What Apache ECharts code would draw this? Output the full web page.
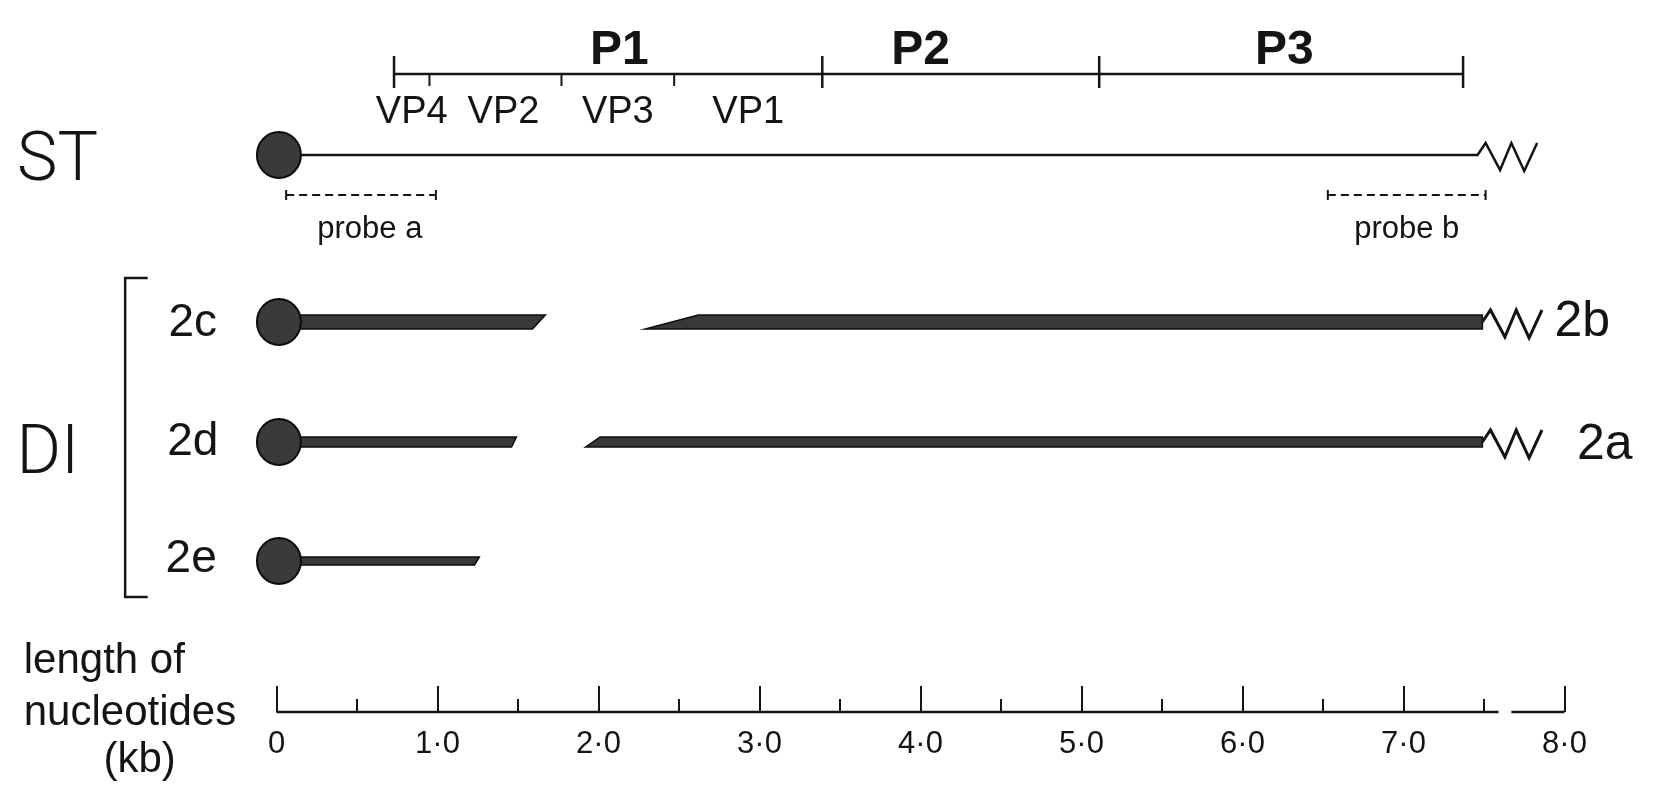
<!DOCTYPE html>
<html>
<head>
  <meta charset="utf-8">
  <title>ST and DI RNA map</title>
  <script src="https://cdn.jsdelivr.net/npm/echarts@6.0.0/dist/echarts.min.js"></script>
</head>
<body style="margin:0;background:#fff">
<div id="chart-container" style="position: relative; width: 1661px; height: 799px; overflow: hidden;"></div>
<script type="text/javascript">
  // ---- data (kb along the genome) ----
  var kbTicks = [0, 1, 2, 3, 4, 5, 6, 7, 8];
  var kbTickLabels = ['0', '1·0', '2·0', '3·0', '4·0', '5·0', '6·0', '7·0', '8·0'];
  var axisPieces = [[0, 7.59], [7.67, 8.0]];
  var axisBreakDot = 7.63;

  var proteinNames = ['P1', 'P2', 'P3'];
  var proteinBounds = [0.73, 3.39, 5.11, 7.37];
  var proteinLabelKb = [2.13, 4.0, 6.26];
  var capsidNames = ['VP4', 'VP2', 'VP3', 'VP1'];
  var capsidBounds = [0.95, 1.77, 2.47];
  var capsidLabelKb = [0.84, 1.41, 2.12, 2.93];

  var probeNames = ['probe a', 'probe b'];
  var probeStart = [0.06, 6.53];
  var probeEnd = [0.99, 7.51];
  var probeLabelKb = [0.58, 7.02];

  var stName = 'ST';
  var stLength = 7.46;
  var capKb = 0.015;   // 5' end marker

  var diName = 'DI';
  var segNames = ['2c', '2b', '2d', '2a', '2e'];
  var segRow = ['2c', '2c', '2d', '2d', '2e'];
  var segStartTop = [0, 2.62, 0, 2.01, 0];
  var segStartBottom = [0, 2.29, 0, 1.92, 0];
  var segEndTop = [1.67, 7.49, 1.49, 7.49, 1.26];
  var segEndBottom = [1.59, 7.49, 1.46, 7.49, 1.23];

  var axisTitle = ['length of', 'nucleotides', '(kb)'];

  // ---- layout (pixel rows, label spots) ----
  var rowY = { ST: 155, '2c': 322, '2d': 442, '2e': 561 };
  var rowThick = { '2c': 14, '2d': 10, '2e': 8 };
  var axisY = 712;
  var pLineY = 74, pLabelY = 51, vpLabelY = 113;
  var probeY = 195, probeLabelY = 229;
  var zigKb = [0, 0.05, 0.14, 0.21, 0.29, 0.37];
  var zigDy = [0, -12, 15, -12, 16, -12];
  var segLabelKb = { '2c': -0.52, '2d': -0.52, '2e': -0.53, '2b': 8.11, '2a': 8.25 };
  var segLabelDy = { '2c': 1, '2d': 0, '2e': -2, '2b': 0, '2a': 3 };
  var bracketKb = -0.94, bracketSerifKb = -0.80, bracketTop = 278, bracketBottom = 597;

  var INK = '#141414';
  var FONT = '"Liberation Sans", Arial, sans-serif';
  var LIGHT = 'Roboto, "Liberation Sans", sans-serif';

  var dom = document.getElementById('chart-container');
  var myChart = echarts.init(dom, null, { renderer: 'canvas' });

  function txt(api, kb, y, s, size, extra) {
    var p = api.coord([kb, y]);
    var st = {
      x: p[0], y: p[1], text: s, fill: INK,
      fontSize: size, fontFamily: FONT, fontWeight: 'normal',
      align: 'center', verticalAlign: 'middle'
    };
    if (extra) for (var k in extra) st[k] = extra[k];
    return { type: 'text', style: st };
  }
  function seg(api, a, b, w, dash) {
    var p = api.coord(a), q = api.coord(b);
    return {
      type: 'line',
      shape: { x1: p[0], y1: p[1], x2: q[0], y2: q[1] },
      style: { stroke: INK, lineWidth: w, lineDash: dash || null, lineCap: 'butt' }
    };
  }
  function zigzag(api, x0, y0) {
    return zigKb.map(function (dx, i) { return api.coord([x0 + dx, y0 + zigDy[i]]); });
  }

  var option = {
    backgroundColor: '#ffffff',
    animation: false,
    grid: { left: 276.5, right: 96.5, top: 0, bottom: 799 - axisY },
    xAxis: {
      type: 'value', min: 0, max: 8, interval: 1,
      position: 'bottom',
      axisLine: { show: true, onZero: false, lineStyle: { color: 'rgba(0,0,0,0)' } },
      splitLine: { show: false },
      axisTick: { show: true, inside: true, length: 26, lineStyle: { color: INK, width: 2 } },
      minorTick: { show: true, splitNumber: 2, length: 13, lineStyle: { color: INK, width: 2 } },
      axisLabel: {
        margin: 17, color: INK, fontSize: 31, fontFamily: FONT,
        showMinLabel: true, showMaxLabel: true,
        formatter: function (v) { return kbTickLabels[kbTicks.indexOf(v)]; }
      }
    },
    yAxis: { type: 'value', inverse: true, min: 0, max: axisY, show: false },
    series: [
      {
        // scale bar line with its break before 8.0
        type: 'custom', clip: false, silent: true,
        data: axisPieces,
        renderItem: function (params, api) {
          return seg(api, [api.value(0), axisY], [api.value(1), axisY], 2.5);
        }
      },
      {
        type: 'scatter', silent: true, symbol: 'circle', symbolSize: 5,
        itemStyle: { color: INK },
        data: [[axisBreakDot, axisY + 6]]
      },
      {
        // P1/P2/P3 and capsid map
        type: 'custom', clip: false, silent: true,
        data: [0],
        renderItem: function (params, api) {
          var ch = [];
          var n = proteinBounds.length;
          ch.push(seg(api, [proteinBounds[0], pLineY], [proteinBounds[n - 1], pLineY], 2.5));
          proteinBounds.forEach(function (b) {
            ch.push(seg(api, [b, pLineY - 18], [b, pLineY + 14], 2.5));
          });
          capsidBounds.forEach(function (b) {
            ch.push(seg(api, [b, pLineY], [b, pLineY + 12], 2));
          });
          proteinNames.forEach(function (s, i) {
            ch.push(txt(api, proteinLabelKb[i], pLabelY, s, 48, { fontWeight: 'bold' }));
          });
          capsidNames.forEach(function (s, i) {
            ch.push(txt(api, capsidLabelKb[i], vpLabelY, s, 38));
          });
          return { type: 'group', children: ch };
        }
      },
      {
        // hybridisation probes
        type: 'custom', clip: false, silent: true,
        data: probeNames.map(function (s, i) { return [probeStart[i], probeEnd[i], probeLabelKb[i]]; }),
        renderItem: function (params, api) {
          var a = api.value(0), b = api.value(1), i = params.dataIndex;
          return {
            type: 'group',
            children: [
              seg(api, [a, probeY], [b, probeY], 2, [8, 5]),
              seg(api, [a, probeY - 5], [a, probeY + 5], 2),
              seg(api, [b, probeY - 5], [b, probeY + 5], 2),
              txt(api, api.value(2), probeLabelY, probeNames[i], 31)
            ]
          };
        }
      },
      {
        // standard genome
        type: 'custom', clip: false, silent: true,
        data: [[capKb, stLength]],
        renderItem: function (params, api) {
          var y = rowY.ST;
          var pts = [api.coord([api.value(0), y])].concat(zigzag(api, api.value(1), y));
          return {
            type: 'polyline',
            shape: { points: pts },
            style: { stroke: INK, lineWidth: 2.5, fill: null, lineJoin: 'miter' }
          };
        }
      },
      {
        // defective interfering RNA segments
        type: 'custom', clip: false, silent: true,
        data: segNames.map(function (s, i) {
          return [segStartTop[i], segStartBottom[i], segEndTop[i], segEndBottom[i]];
        }),
        renderItem: function (params, api) {
          var i = params.dataIndex, row = segRow[i];
          var y = rowY[row], h = rowThick[row] / 2;
          var poly = {
            type: 'polygon',
            shape: {
              points: [
                api.coord([api.value(0), y - h]),
                api.coord([api.value(2), y - h]),
                api.coord([api.value(3), y + h]),
                api.coord([api.value(1), y + h])
              ]
            },
            style: { fill: '#383838', stroke: '#0c0c0c', lineWidth: 1.5 }
          };
          var ch = [poly];
          if (api.value(2) > stLength) {
            ch.push({
              type: 'polyline',
              shape: { points: zigzag(api, api.value(2), y) },
              style: { stroke: INK, lineWidth: 3, fill: null }
            });
          }
          return { type: 'group', children: ch };
        }
      },
      {
        // 5' ends
        type: 'scatter', silent: true, symbol: 'circle', symbolSize: [44, 46],
        itemStyle: { color: '#3a3a3a', borderColor: '#0c0c0c', borderWidth: 2, opacity: 1 },
        z: 5,
        data: [[capKb, rowY.ST], [capKb, rowY['2c']], [capKb, rowY['2d']], [capKb, rowY['2e']]]
      },
      {
        // row names, DI bracket and scale title
        type: 'custom', clip: false, silent: true,
        data: [0],
        renderItem: function (params, api) {
          var ch = [];
          ch.push(txt(api, -1.36, rowY.ST + 8, stName, 68, { fontFamily: LIGHT, fontWeight: 300 }));
          ch.push(txt(api, -1.42, 456, diName, 68, { fontFamily: LIGHT, fontWeight: 300 }));
          segNames.forEach(function (s, i) {
            var big = segStartTop[i] > 0;
            ch.push(txt(api, segLabelKb[s], rowY[segRow[i]] + segLabelDy[s], s, big ? 50 : 46));
          });
          ch.push({
            type: 'polyline',
            shape: {
              points: [
                api.coord([bracketSerifKb, bracketTop]),
                api.coord([bracketKb, bracketTop]),
                api.coord([bracketKb, bracketBottom]),
                api.coord([bracketSerifKb, bracketBottom])
              ]
            },
            style: { stroke: INK, lineWidth: 2.5, fill: null }
          });
          ch.push(txt(api, -1.57, 661, axisTitle[0], 42, { align: 'left' }));
          ch.push(txt(api, -1.57, 713, axisTitle[1], 42, { align: 'left' }));
          ch.push(txt(api, -0.85, 760, axisTitle[2], 42));
          return { type: 'group', children: ch };
        }
      }
    ]
  };

  myChart.setOption(option);
  window.addEventListener('resize', myChart.resize);
</script>
</body>
</html>
